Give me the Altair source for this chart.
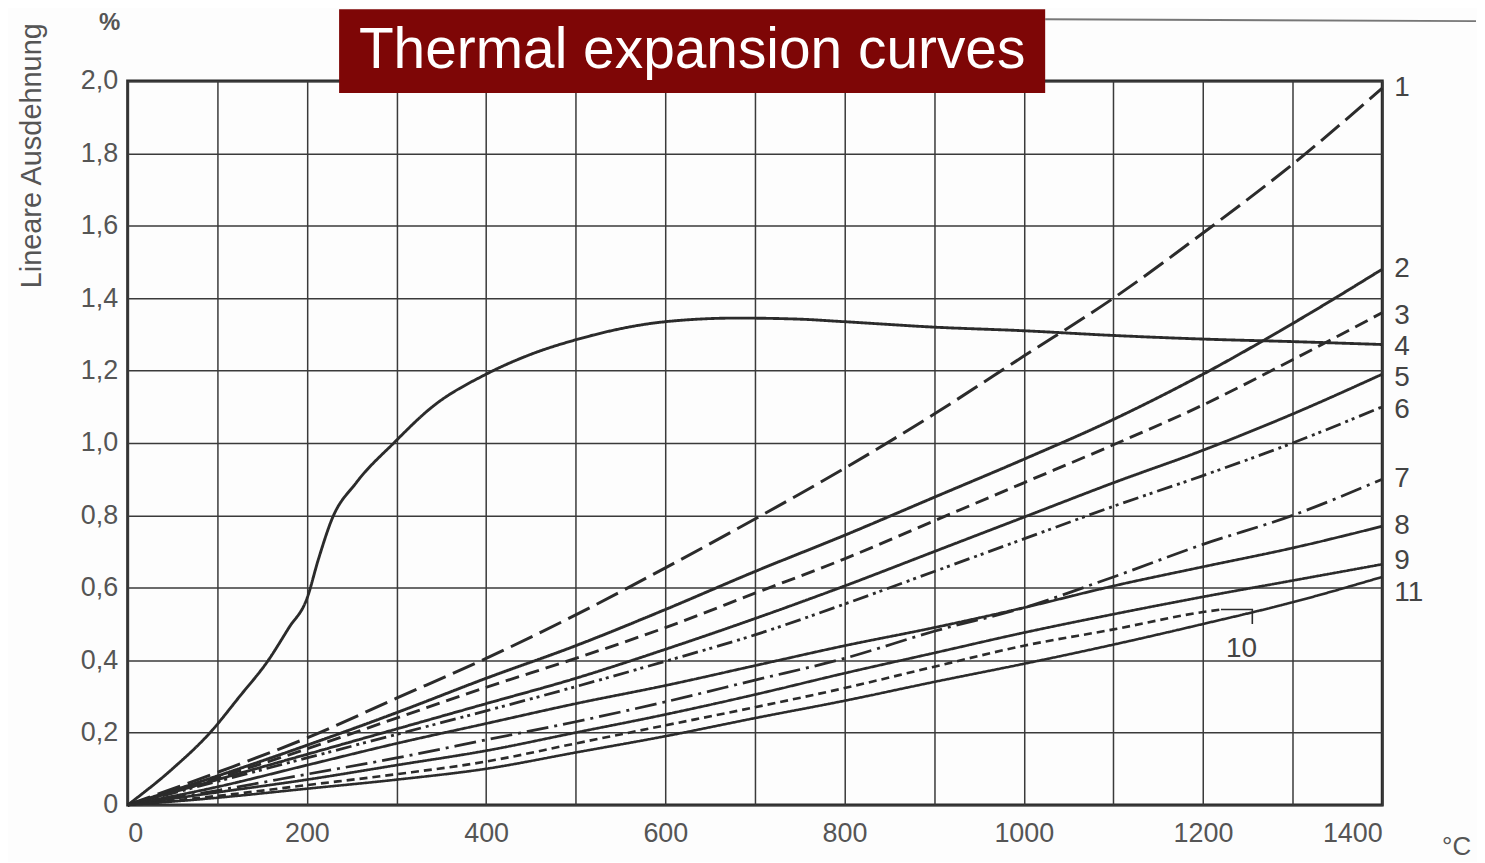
import altair as alt
import pandas as pd

# ---------------- data ----------------
T = [0, 100, 200, 300, 400, 500, 600, 700, 800, 900, 1000, 1100, 1200, 1300, 1400]

c1 = [0, .09, .185, .295, .405, .525, .655, .79, .93, 1.08, 1.24, 1.40, 1.58, 1.77, 1.98]
c2 = [0, .08, .165, .255, .35, .44, .54, .645, .745, .85, .955, 1.065, 1.19, 1.33, 1.48]
c3 = [0, .075, .155, .24, .325, .405, .49, .585, .68, .785, .89, .995, 1.105, 1.23, 1.36]
c5 = [0, .07, .14, .21, .28, .35, .43, .515, .605, .70, .795, .89, .98, 1.08, 1.19]
c6 = [0, .065, .13, .195, .26, .327, .397, .47, .555, .645, .735, .825, .91, 1.0, 1.10]
c7 = [0, .04, .085, .13, .18, .23, .285, .345, .405, .48, .545, .63, .72, .80, .90]
c8 = [0, .05, .11, .17, .225, .28, .33, .385, .44, .49, .545, .605, .658, .71, .77]
c9 = [0, .035, .07, .11, .15, .20, .25, .305, .364, .42, .476, .527, .575, .62, .665]
c11 = [0, .02, .045, .07, .10, .145, .19, .24, .288, .34, .39, .443, .50, .56, .63]

T4 = [0, 50, 92, 125, 157, 180, 200, 213, 228, 255, 297, 340, 400, 450, 500,
      600, 680, 750, 800, 900, 1000, 1100, 1200, 1300, 1400]
c4 = [0, .10, .20, .30, .40, .49, .57, .68, .79, .89, 1.00, 1.10, 1.19, 1.245, 1.285,
      1.335, 1.345, 1.342, 1.335, 1.32, 1.31, 1.297, 1.287, 1.28, 1.272]

T10 = [0, 100, 200, 300, 400, 500, 600, 700, 800, 900, 1000, 1100, 1200, 1220]
c10 = [0, .025, .055, .085, .12, .17, .22, .27, .323, .382, .44, .485, .533, .54]

# curve end labels
label_names = ["1", "2", "3", "4", "5", "6", "7", "8", "9", "11"]
label_y = [1.98, 1.48, 1.35, 1.265, 1.18, 1.09, 0.90, 0.77, 0.675, 0.585]
label10_x = [1243]
label10_y = [0.43]
bracket_x = [1220, 1255, 1255]
bracket_y = [0.54, 0.54, 0.50]

x_ticks = list(range(0, 1401, 100))
y_ticks = [0, 0.2, 0.4, 0.6, 0.8, 1.0, 1.2, 1.4, 1.6, 1.8, 2.0]

curves = {"1": (T, c1), "2": (T, c2), "3": (T, c3), "4": (T4, c4), "5": (T, c5),
          "6": (T, c6), "7": (T, c7), "8": (T, c8), "9": (T, c9), "10": (T10, c10),
          "11": (T, c11)}
order = ["1", "2", "3", "4", "5", "6", "7", "8", "9", "10", "11"]
dashes = [[24, 8], [1, 0], [14, 7], [1, 0], [1, 0], [16, 5, 3, 4, 3, 5],
          [22, 6, 3, 6], [1, 0], [1, 0], [8, 5], [1, 0]]
widths = [3, 2.6, 2.6, 3.4, 2.6, 2.6, 2.6, 2.6, 2.6, 2.6, 2.6]

rows = []
for name in order:
    xs, ys = curves[name]
    for i, (a, b) in enumerate(zip(xs, ys)):
        rows.append({"curve": name, "T": a, "v": b, "i": i})
df = pd.DataFrame(rows)

W, H = 1258, 726
xscale = alt.Scale(domain=[0, 1400], nice=False, zero=False)
yscale = alt.Scale(domain=[0, 2.0], nice=False, zero=False)

FONT = "Liberation Sans"
INK = "#2b2b2b"

lines = alt.Chart(df).mark_line(interpolate="monotone", color=INK).encode(
    x=alt.X("T:Q", scale=xscale,
            axis=alt.Axis(values=x_ticks, title=None, labelPadding=16,
                          labelExpr="datum.value % 200 == 0 ? datum.label : ''",
                          format="d")),
    y=alt.Y("v:Q", scale=yscale,
            axis=alt.Axis(values=y_ticks, title=None, labelPadding=10,
                          labelExpr="datum.value == 0 ? '0' : replace(format(datum.value, '.1f'), '.', ',')")),
    detail="curve:N",
    order="i:Q",
    strokeDash=alt.StrokeDash("curve:N", scale=alt.Scale(domain=order, range=dashes), legend=None),
    strokeWidth=alt.StrokeWidth("curve:N", scale=alt.Scale(domain=order, range=widths), legend=None),
)

lab_df = pd.DataFrame({"name": label_names, "y": label_y, "x": [1400] * len(label_names)})
labels = alt.Chart(lab_df).mark_text(align="left", baseline="middle", dx=12,
                                     font=FONT, fontSize=28, color="#444").encode(
    x=alt.X("x:Q", scale=xscale), y=alt.Y("y:Q", scale=yscale), text="name:N")

lab10 = alt.Chart(pd.DataFrame({"x": label10_x, "y": label10_y, "t": ["10"]})).mark_text(
    align="center", baseline="middle", font=FONT, fontSize=28, color="#444").encode(
    x=alt.X("x:Q", scale=xscale), y=alt.Y("y:Q", scale=yscale), text="t:N")

bracket = alt.Chart(pd.DataFrame({"x": bracket_x, "y": bracket_y, "i": [0, 1, 2]})).mark_line(
    color=INK, strokeWidth=1.6).encode(
    x=alt.X("x:Q", scale=xscale), y=alt.Y("y:Q", scale=yscale), order="i:Q")

one = pd.DataFrame({"a": [0]})

ytitle = alt.Chart(one).mark_text(text="Lineare Ausdehnung", angle=270, align="center",
                                  baseline="middle", font=FONT, fontSize=29, color="#555").encode(
    x=alt.value(-96), y=alt.value(75))
pct = alt.Chart(one).mark_text(text="%", align="center", baseline="middle",
                               font=FONT, fontSize=24, fontWeight="bold", color="#555").encode(
    x=alt.value(-18), y=alt.value(-58))
degc = alt.Chart(one).mark_text(text="°C", align="left", baseline="middle",
                                font=FONT, fontSize=26, color="#555").encode(
    x=alt.value(1318), y=alt.value(H + 42))

topline = alt.Chart(one).mark_rule(color="#777", strokeWidth=2).encode(
    x=alt.value(920), x2=alt.value(1352), y=alt.value(-62), y2=alt.value(-60))

title_box = alt.Chart(one).mark_rect(color="#7e0606").encode(
    x=alt.value(212), x2=alt.value(920), y=alt.value(-72), y2=alt.value(12))
title_text = alt.Chart(one).mark_text(text="Thermal expansion curves", align="center",
                                      baseline="middle", font=FONT, fontSize=57,
                                      color="#ffffff").encode(
    x=alt.value(566), y=alt.value(-30))

chart = alt.layer(lines, bracket, labels, lab10, ytitle, pct, degc, topline,
                  title_box, title_text).properties(
    width=W, height=H,
    autosize=alt.AutoSizeParams(type="none"),
    padding={"left": 120, "top": 72, "right": 95, "bottom": 56},
    background="#fdfdfd",
).configure_view(
    stroke=INK, strokeWidth=3
).configure_axis(
    grid=True, gridColor="#3a3a3a", gridWidth=1.5, gridOpacity=1,
    domain=False, ticks=False,
    labelFont=FONT, labelFontSize=27, labelColor="#555",
)

chart.save("out.html", embed_options={"renderer": "svg", "actions": False})
